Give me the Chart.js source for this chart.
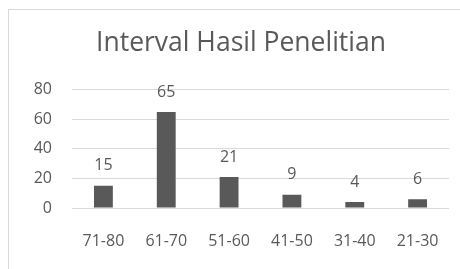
<!DOCTYPE html>
<html>
<head>
<meta charset="utf-8">
<script src="https://cdn.jsdelivr.net/npm/chart.js@4/dist/chart.umd.min.js"></script>
<style>
  html, body { margin: 0; padding: 0; background: #fff; overflow: hidden; }
  #frame { position: absolute; left: 8px; top: 9px; width: 500px; height: 300px;
           border-left: 1px solid #d9d9d9; border-top: 1px solid #d9d9d9; }
  #wrap { position: absolute; left: 0; top: 0; width: 480px; height: 269px; }
</style>
</head>
<body>
<div id="frame"></div>
<div id="wrap"><canvas id="hasil" width="480" height="269"></canvas></div>
<script>
// data dari grafik
var kategori = ['71-80', '61-70', '51-60', '41-50', '31-40', '21-30'];
var jumlah = [15, 65, 21, 9, 4, 6];
var judul = 'Interval Hasil Penelitian';

var abu = '#595959';
var garis = '#d9d9d9';

// angka di atas batang
var labelBatang = {
    id: 'labelBatang',
    afterDatasetsDraw: function (chart) {
        var ctx = chart.ctx;
        var meta = chart.getDatasetMeta(0);
        ctx.save();
        ctx.fillStyle = abu;
        ctx.font = '16px "Open Sans"';
        ctx.textAlign = 'center';
        ctx.textBaseline = 'middle';
        meta.data.forEach(function (bar, i) {
            ctx.fillText(chart.data.datasets[0].data[i], bar.x, bar.y - 20);
        });
        ctx.restore();
    }
};

var ctx = document.getElementById('hasil');

var grafik = new Chart(ctx, {
    type: 'bar',
    data: {
        labels: kategori,
        datasets: [{
            data: jumlah,
            backgroundColor: abu,
            categoryPercentage: 1,
            barPercentage: 0.3
        }]
    },
    options: {
        responsive: false,
        animation: false,
        devicePixelRatio: 1,
        layout: { padding: { left: 33, right: 31, top: 0, bottom: 0 } },
        plugins: {
            legend: { display: false },
            tooltip: { enabled: false },
            title: {
                display: true,
                text: judul,
                color: abu,
                font: { family: 'Open Sans', size: 26.5, weight: 'normal' },
                padding: { top: 28, bottom: 30 }
            }
        },
        scales: {
            x: {
                grid: { display: false, drawTicks: false },
                border: { display: false },
                ticks: { color: abu, font: { family: 'Open Sans', size: 16 }, padding: 24 },
                afterFit: function (s) { s.height = 61; }
            },
            y: {
                min: 0,
                max: 80,
                ticks: { stepSize: 20, color: abu, font: { family: 'Open Sans', size: 16 }, padding: 20 },
                grid: { color: garis, drawTicks: false },
                border: { display: false },
                afterFit: function (s) { s.width = 39; }
            }
        }
    },
    plugins: [labelBatang]
});
</script>
</body>
</html>
